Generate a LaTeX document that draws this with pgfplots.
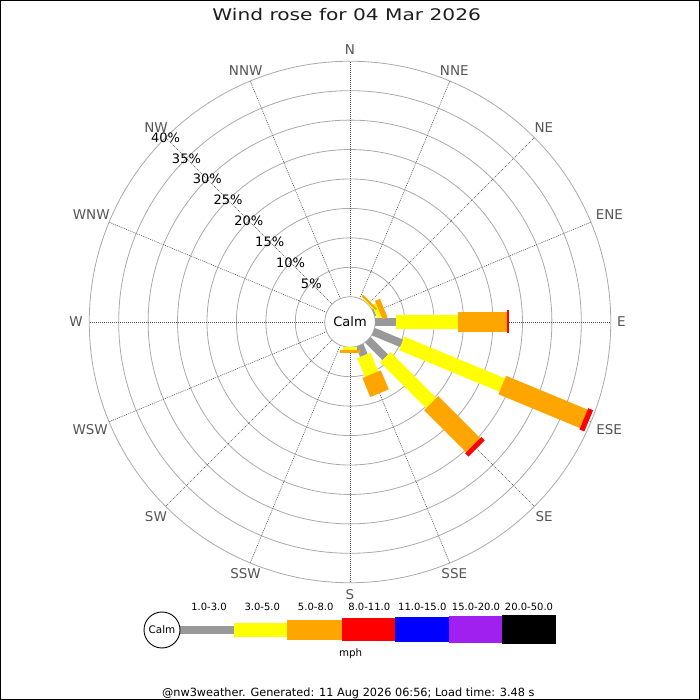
\documentclass[border=0pt]{standalone}
\usepackage{fontspec}
\setmainfont{DejaVu Sans}
\newfontfamily\titlefont[FakeStretch=1.26]{DejaVu Sans}
\usepackage{pgfplots}
\pgfplotsset{compat=1.18}
\usepackage{pgfplotstable}
\definecolor{cgray}{HTML}{999999}
\definecolor{cyellow}{HTML}{FFFF00}
\definecolor{corange}{HTML}{FFA500}
\definecolor{cred}{HTML}{FF0000}
\definecolor{cblue}{HTML}{0000FF}
\definecolor{cpurple}{HTML}{A020F0}
\definecolor{ringc}{HTML}{AAAAAA}
\definecolor{spokec}{HTML}{555555}
\definecolor{labc}{HTML}{555555}

% angle (deg, math convention), start and end of the band (cumulative %)
\pgfplotstableread{
ang from to
22.5 0.00 0.25
0 0.00 3.50
-22.5 0.00 5.20
-45 0.00 4.20
-67.5 0.00 1.85
}\grayT
\pgfplotstableread{
ang from to
45 0.05 0.20
22.5 0.25 1.00
0 3.50 14.00
-22.5 5.20 23.70
-45 4.20 15.20
-67.5 1.85 5.30
-90 0.00 0.45
}\yellowT
\pgfplotstableread{
ang from to
45 0.20 0.55
22.5 1.00 1.90
0 14.00 22.30
-22.5 23.70 38.70
-45 15.20 25.30
-67.5 5.30 8.80
-90 0.45 0.90
}\orangeT
\pgfplotstableread{
ang from to
0 22.30 22.75
-22.5 38.70 39.60
-45 25.30 26.10
}\redT

\pgfplotsset{
  rosebar/.style={
    no markers, line cap=butt,
    quiver={
      u={5.886*(\thisrow{to}-\thisrow{from})*cos(\thisrow{ang})},
      v={5.886*(\thisrow{to}-\thisrow{from})*sin(\thisrow{ang})}
    }
  }
}

\begin{document}
\begin{tikzpicture}[x=1pt,y=1pt]
\fill[white] (0,0) rectangle (700,700);
% polar grid
\begin{scope}[shift={(350,378)}]
  \foreach \r in {54.73,84.16,113.59,143.02,172.45,201.88,231.31,260.74}
    \draw[ringc, line width=0.8pt] (0,0) circle[radius=\r];
  \foreach \a in {0,22.5,...,337.5}
    \draw[spokec, line width=0.6pt, dash pattern=on 1pt off 1pt] (\a:25.3) -- (\a:260.74);
  \draw[ringc, fill=white, line width=0.8pt] (0,0) circle[radius=25.3];
  \node[inner sep=0pt] at (0,0) {\fontsize{13}{15}\selectfont Calm};
  \foreach \n/\a in {N/90,NNE/67.5,NE/45,ENE/22.5,E/0,ESE/-22.5,SE/-45,SSE/-67.5,S/-90,SSW/-112.5,SW/-135,WSW/-157.5,W/180,WNW/157.5,NW/135,NNW/112.5}{
    \pgfmathsetmacro\ang{\a+180}
    \node[anchor=\ang, inner sep=0pt, text=labc, font=\fontsize{13.5}{15}\selectfont] at (\a:267) {\n};
  }
  \foreach \p/\r in {5/54.73,10/84.16,15/113.59,20/143.02,25/172.45,30/201.88,35/231.31,40/260.74}
    \node[inner sep=0pt, font=\fontsize{13}{15}\selectfont] at (135:\r) {\p\%};
\end{scope}

\begin{axis}[at={(0,0)}, anchor=south west, width=700pt, height=700pt, scale only axis,
  xmin=-350, xmax=350, ymin=-378, ymax=322, hide axis, clip=false]
  \addplot[rosebar, draw=cgray, line width=8pt] table[x expr={(25.3+5.886*\thisrow{from})*cos(\thisrow{ang})}, y expr={(25.3+5.886*\thisrow{from})*sin(\thisrow{ang})}]{\grayT};
  \addplot[rosebar, draw=cyellow, line width=14.5pt] table[x expr={(25.3+5.886*\thisrow{from})*cos(\thisrow{ang})}, y expr={(25.3+5.886*\thisrow{from})*sin(\thisrow{ang})}]{\yellowT};
  \addplot[rosebar, draw=corange, line width=20pt] table[x expr={(25.3+5.886*\thisrow{from})*cos(\thisrow{ang})}, y expr={(25.3+5.886*\thisrow{from})*sin(\thisrow{ang})}]{\orangeT};
  \addplot[rosebar, draw=cred, line width=23pt] table[x expr={(25.3+5.886*\thisrow{from})*cos(\thisrow{ang})}, y expr={(25.3+5.886*\thisrow{from})*sin(\thisrow{ang})}]{\redT};
\end{axis}

% legend
\fill[cgray] (180,66) rectangle (234,74);
\fill[cyellow] (234,63) rectangle (287.3,77);
\fill[corange] (287.3,60) rectangle (341.7,80);
\fill[cred] (341.7,58.5) rectangle (395,81.5);
\fill[cblue] (395,57.5) rectangle (448.7,82.5);
\fill[cpurple] (448.7,56.5) rectangle (502,83.5);
\fill[black] (502,55.5) rectangle (556,84.5);
\draw[black, line width=0.9pt, fill=white] (162,70) circle[radius=18];
\node[inner sep=0pt, font=\fontsize{10.4}{12}\selectfont] at (162,70) {Calm};
\foreach \x/\t in {209/1.0-3.0,262.3/3.0-5.0,315.7/5.0-8.0,369.3/8.0-11.0,422.3/11.0-15.0,476/15.0-20.0,529/20.0-50.0}
  \node[inner sep=0pt, font=\fontsize{10}{12}\selectfont] at (\x,93.3) {\t};
\node[anchor=base, inner sep=0pt, font=\fontsize{10.3}{12}\selectfont] at (350.7,43) {mph};
\node[anchor=base, inner sep=0pt, font=\fontsize{11.3}{13}\selectfont] at (348.3,3.3) {@nw3weather. Generated: 11 Aug 2026 06:56; Load time: 3.48 s};
\node[anchor=base, inner sep=0pt, text={rgb,255:red,30;green,30;blue,30}] at (346.7,679.5) {\titlefont\fontsize{16}{19}\selectfont Wind rose for 04 Mar 2026};
\draw[black, line width=1pt] (0.5,0.5) rectangle (699.5,699.5);
\pgfresetboundingbox
\useasboundingbox (0,0) rectangle (700,700);
\end{tikzpicture}
\end{document}
